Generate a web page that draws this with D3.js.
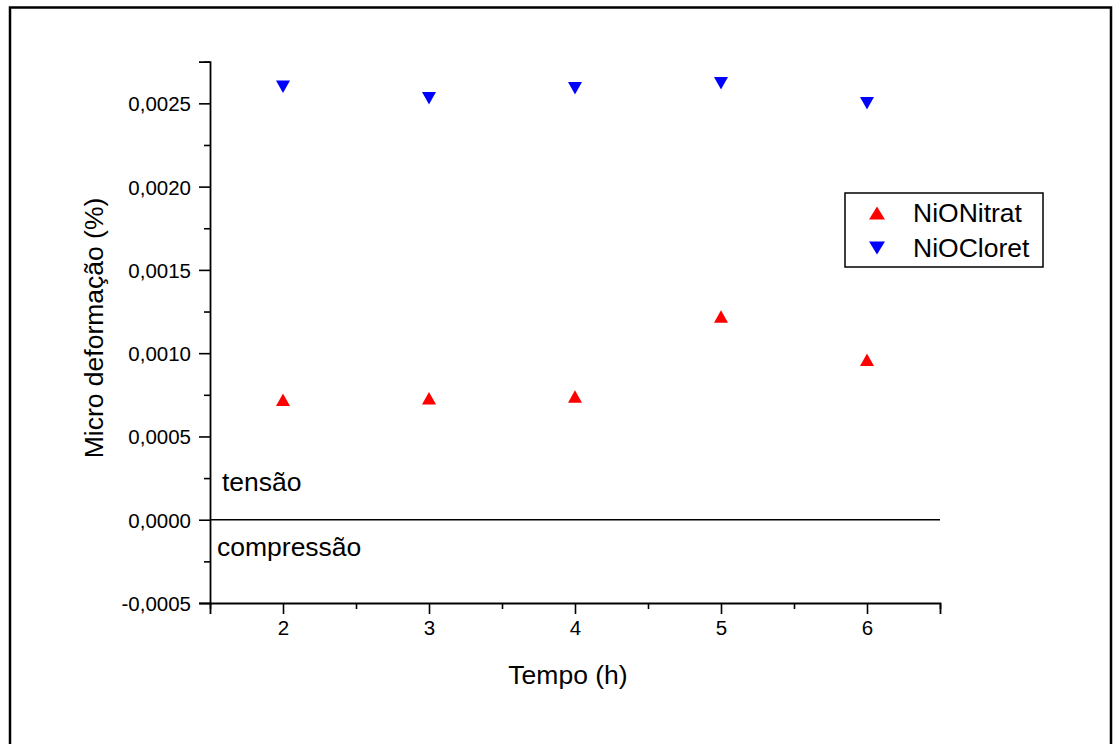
<!DOCTYPE html>
<html>
<head>
<meta charset="utf-8">
<script src="https://cdn.jsdelivr.net/npm/d3@7"></script>
<style>
  html, body { margin: 0; padding: 0; background: #fff; }
  svg { display: block; font-family: "Liberation Sans", Arial, sans-serif; }
</style>
</head>
<body>
<svg id="chart" width="1114" height="744"></svg>
<script>
// Tempo de síntese (h)
const tempo = [2, 3, 4, 5, 6];
// Micro deformação (%) por precursor
const nioNitrat = [0.00072, 0.00073, 0.00074, 0.00122, 0.00096];
const nioCloret = [0.00260, 0.00253, 0.00259, 0.00262, 0.00250];

const seriesNames = ["NiONitrat", "NiOCloret"];
const seriesColors = ["#ff0000", "#0000ff"];

const xMajorTicks = [2, 3, 4, 5, 6];
const xMinorTicks = [1.5, 2.5, 3.5, 4.5, 5.5, 6.5];
const yMajorTicks = [-0.0005, 0, 0.0005, 0.0010, 0.0015, 0.0020, 0.0025];
const yMinorTicks = [-0.00025, 0.00025, 0.00075, 0.00125, 0.00175, 0.00225, 0.00275];

const svg = d3.select("#chart");

// outer frame
svg.append("rect")
  .attr("x", 10).attr("y", 7.5)
  .attr("width", 1101).attr("height", 800)
  .attr("fill", "none").attr("stroke", "#000").attr("stroke-width", 2.5);

const x = d3.scaleLinear().domain([1.5, 6.5]).range([210, 940]);
const y = d3.scaleLinear().domain([-0.0005, 0.00275]).range([603, 61.7]);

const fmt = d => d3.format(".4f")(d).replace(".", ",").replace("−", "-");

// x axis: major ticks with labels, then minor ticks
const xAxis = svg.append("g").attr("transform", `translate(0,${y(-0.0005)})`);
xAxis.call(d3.axisBottom(x).tickValues(xMajorTicks).tickSize(11).tickPadding(6).tickFormat(d3.format("d")));
svg.append("g").attr("transform", `translate(0,${y(-0.0005)})`)
  .call(d3.axisBottom(x).tickValues(xMinorTicks).tickSize(6).tickFormat(""))
  .select(".domain").remove();

// y axis
const yAxis = svg.append("g").attr("transform", `translate(${x(1.5)},0)`);
yAxis.call(d3.axisLeft(y).tickValues(yMajorTicks).tickSize(11).tickPadding(8).tickFormat(fmt));
svg.append("g").attr("transform", `translate(${x(1.5)},0)`)
  .call(d3.axisLeft(y).tickValues(yMinorTicks).tickSize(6).tickFormat(""))
  .select(".domain").remove();

svg.selectAll(".domain").attr("stroke", "#000").attr("stroke-width", 1.8);
svg.selectAll(".tick line").attr("stroke", "#000").attr("stroke-width", 1.6);
svg.selectAll(".tick text").attr("fill", "#000")
  .style("font-family", "'Liberation Sans', Arial, sans-serif").style("font-size", "20.5px");
yAxis.selectAll(".tick text").attr("dy", "0.36em");

// zero reference line
svg.append("line")
  .attr("x1", x(1.5)).attr("x2", x(6.5))
  .attr("y1", y(0)).attr("y2", y(0))
  .attr("stroke", "#000").attr("stroke-width", 1.6);

const bigFont = "26.5px";

// axis titles
svg.append("text")
  .attr("x", 568).attr("y", 684)
  .attr("text-anchor", "middle").style("font-size", bigFont)
  .text("Tempo (h)");
svg.append("text")
  .attr("transform", "translate(103,328) rotate(-90)")
  .attr("text-anchor", "middle").style("font-size", bigFont)
  .text("Micro deformação (%)");

// region annotations
svg.append("text").attr("x", 222).attr("y", 491).style("font-size", bigFont).text("tensão");
svg.append("text").attr("x", 217).attr("y", 556).style("font-size", bigFont).text("compressão");

// triangle markers centred on their bounding box
function triangle(up, w, h) {
  const hw = w / 2, hh = h / 2;
  return up
    ? `M0,${-hh}L${hw},${hh}L${-hw},${hh}Z`
    : `M0,${hh}L${hw},${-hh}L${-hw},${-hh}Z`;
}

const series = [
  { name: seriesNames[0], values: nioNitrat, color: seriesColors[0], up: true },
  { name: seriesNames[1], values: nioCloret, color: seriesColors[1], up: false }
];

series.forEach(s => {
  svg.append("g").selectAll("path")
    .data(tempo.map((t, i) => [t, s.values[i]]))
    .join("path")
    .attr("transform", d => `translate(${x(d[0])},${y(d[1])})`)
    .attr("d", triangle(s.up, 14, 12.5))
    .attr("fill", s.color);
});

// legend
const legend = svg.append("g");
legend.append("rect")
  .attr("x", 845).attr("y", 193).attr("width", 198).attr("height", 74)
  .attr("fill", "#fff").attr("stroke", "#000").attr("stroke-width", 1.5);
series.forEach((s, i) => {
  const cy = 213 + i * 35;
  legend.append("path")
    .attr("transform", `translate(877,${cy})`)
    .attr("d", triangle(s.up, 16, 13))
    .attr("fill", s.color);
  legend.append("text")
    .attr("x", 913).attr("y", cy + 9)
    .style("font-size", bigFont)
    .text(s.name);
});
</script>
</body>
</html>
